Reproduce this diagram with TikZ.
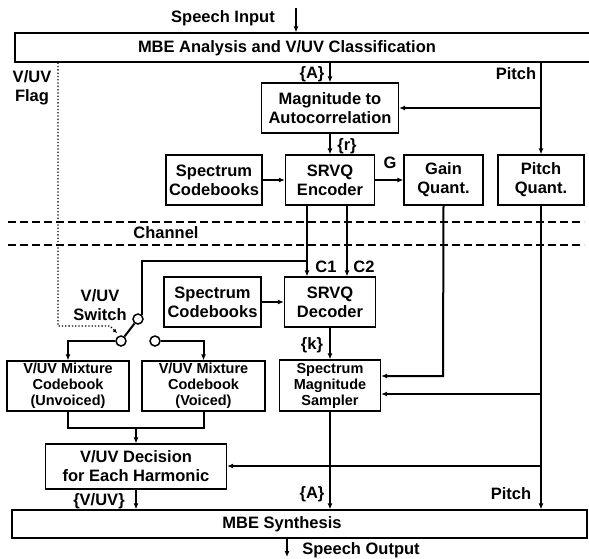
\documentclass[tikz,border=0pt]{standalone}
\usepackage{fontspec}
\setmainfont{Liberation Sans}
\usetikzlibrary{arrows.meta}
\begin{document}
\begin{tikzpicture}[x=1pt,y=-1pt,>={Latex[length=6pt,width=5pt]},
  font=\bfseries\fontsize{16.5}{19}\selectfont,
  box/.style={draw,line width=1.2pt,align=center,inner sep=0pt},
  tight/.style={font=\bfseries\fontsize{14.5}{16}\selectfont},
  contact/.style={circle,draw,line width=1.5pt,minimum size=10pt,inner sep=0pt},
  sig/.style={line width=2pt},
  lbl/.style={inner sep=0pt,align=center}]
\useasboundingbox (0,0) rectangle (589,558);
\path
(303.5,47.5) node[box,minimum width=577pt,minimum height=29pt] (mbea) {}
(287,48)     node[lbl] (mbeatxt) {MBE Analysis and V/UV Classification}
(330,108)    node[box,minimum width=137pt,minimum height=50pt] (mag) {Magnitude to\\Autocorrelation}
(214,180)    node[box,minimum width=96pt,minimum height=50pt] (cbenc) {Spectrum\\Codebooks}
(330,180)    node[box,minimum width=89pt,minimum height=50pt] (enc) {SRVQ\\Encoder}
(443.5,180)  node[box,minimum width=79pt,minimum height=50pt] (gain) {Gain\\Quant.}
(541,180)    node[box,minimum width=86pt,minimum height=50pt] (pitchq) {Pitch\\Quant.}
(212.5,302)  node[box,minimum width=97pt,minimum height=50pt] (cbdec) {Spectrum\\Codebooks}
(330,302)    node[box,minimum width=91pt,minimum height=50pt] (dec) {SRVQ\\Decoder}
(330,385.5)  node[box,tight,minimum width=101pt,minimum height=51pt] (sampler) {Spectrum\\Magnitude\\Sampler}
(68,386)     node[box,tight,minimum width=122pt,minimum height=50pt] (mixuv) {V/UV Mixture\\Codebook\\(Unvoiced)}
(203.5,386)  node[box,tight,minimum width=123pt,minimum height=50pt] (mixv) {V/UV Mixture\\Codebook\\(Voiced)}
(136,466.5)  node[box,minimum width=181pt,minimum height=45pt] (decis) {V/UV Decision\\for Each Harmonic}
(299.5,524)  node[box,minimum width=575pt,minimum height=28pt] (mbes) {}
(282,524)    node[lbl] (mbestxt) {MBE Synthesis}
(138,319)    node[contact] (swtop) {}
(121,341)    node[contact] (swpiv) {}
(155,341)    node[contact] (swv) {};
% labels
\path
(223,18)  node[lbl] (inlbl) {Speech Input}
(32,88)   node[lbl] (flaglbl) {V/UV\\Flag}
(312,74)  node[lbl] (alblt) {\{A\}}
(516,74)  node[lbl] (pitchlblt) {Pitch}
(347,146) node[lbl] (rlbl) {\{r\}}
(390,163) node[lbl] (glbl) {G}
(166,233) node[lbl] (chlbl) {Channel}
(326,267) node[lbl] (conelbl) {C1}
(364,267) node[lbl] (ctwolbl) {C2}
(100,305) node[lbl] (swlbl) {V/UV\\Switch}
(312,345) node[lbl] (klbl) {\{k\}}
(99,501)  node[lbl] (vuvlbl) {\{V/UV\}}
(312,494) node[lbl] (alblb) {\{A\}}
(511,494) node[lbl] (pitchlblb) {Pitch}
(361,550) node[lbl] (outlbl) {Speech Output};
\coordinate (inp) at (296,8);
\coordinate (outp) at (287,557);
\coordinate (c1join) at (307,261);
\coordinate (gbr) at (443,376);
\coordinate (pbr1) at (541,394);
\coordinate (pbr2) at (541,466);
\coordinate (mixj) at (136,427);
\coordinate (flag) at (58,326);
\coordinate (flagbend) at (110,326);
\coordinate (flagend) at (117,333);
% channel
\draw[dash pattern=on 8pt off 4pt,line width=1.4pt] (8,222) -- (584,222);
\draw[dash pattern=on 8pt off 4pt,line width=1.4pt] (8,245) -- (584,245);
% V/UV flag
\draw[dotted,line width=1.3pt,-{Latex[length=4pt,width=4pt]}] (mbea.south -| flag) -- (flag) -- (flagbend) -- (flagend);
% encoder side
\draw[->,sig] (inp) -- (inp |- mbea.north);
\draw[->,sig] (mag.north |- mbea.south) -- (mag.north);
\draw[->,sig] (pitchq.north |- mbea.south) -- (pitchq.north);
\draw[->,sig] (pitchq.north |- mag.east) -- (mag.east);
\draw[->,sig] (mag) -- (enc);
\draw[->,sig] (cbenc) -- (enc);
\draw[->,sig] (enc) -- (gain);
\draw[->,sig] ([xshift=-23pt]enc.south) -- ([xshift=-23pt]dec.north);
\draw[->,sig] ([xshift=17pt]enc.south) -- ([xshift=17pt]dec.north);
% switch
\draw[sig] (swtop.50) |- (c1join);
\draw[sig] (swpiv) -- (swtop);
\draw[->,sig] (swpiv.west) -| (mixuv.north);
\draw[->,sig] (swv.east) -| (mixv.north);
\draw[sig] (mixuv.south) -- ++(0,16) -| (mixv.south);
\draw[->,sig] (mixj) -- (decis.north);
% decoder side
\draw[->,sig] (cbdec) -- (dec);
\draw[->,sig] (dec) -- (sampler);
\draw[->,sig] (gain.south) -- (gbr) -- (sampler.east |- gbr);
\draw[->,sig] (pitchq.south) -- (pitchq.south |- mbes.north);
\draw[->,sig] (pbr1) -- (sampler.east |- pbr1);
\draw[->,sig] (pbr2) -- (decis.east |- pbr2);
\draw[->,sig] (sampler) -- (sampler.south |- mbes.north);
\draw[->,sig] (decis.south) -- (decis.south |- mbes.north);
\draw[->,sig] (mbes.south -| outp) -- (outp);
\end{tikzpicture}
\end{document}
